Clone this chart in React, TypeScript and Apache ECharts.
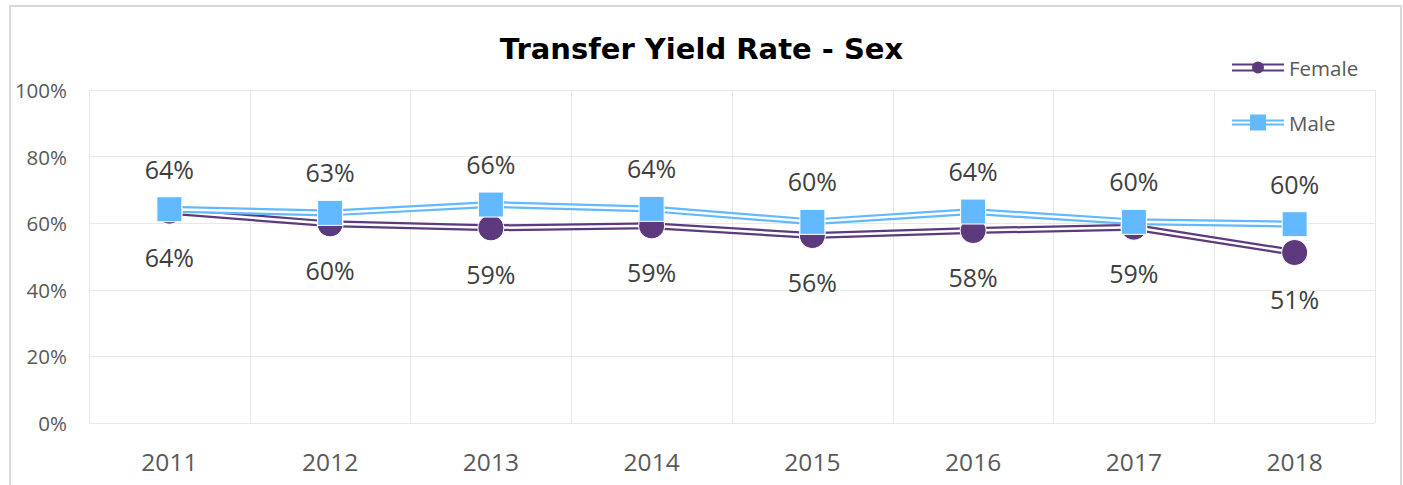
import React, { useEffect, useRef } from 'react';
import * as echarts from 'echarts';

const years = ['2011', '2012', '2013', '2014', '2015', '2016', '2017', '2018'];
const female = [63.6, 59.8, 58.6, 59.2, 56.3, 57.8, 58.8, 51.2];
const male = [64.2, 63.1, 65.6, 64.3, 60.4, 63.5, 60.4, 59.7];

const PURPLE = '#5C3A7D';
const BLUE = '#62B9FF';
const FONT = 'Open Sans';

const femaleIcon = 'path://M0 4h52v2H0z M0 10h52v2H0z M20 8a6 6 0 1 1 12 0a6 6 0 1 1 -12 0z';
const maleIcon = 'path://M0 5h52v2H0z M0 9h52v2H0z M18 0h16v16H18z';

export default function App() {
  const ref = useRef<HTMLDivElement>(null);
  useEffect(() => {
    if (!ref.current) return;
    const chart = echarts.init(ref.current, undefined, { renderer: 'svg' });
    const label = (pos: 'top' | 'bottom', dist: number) => ({
      show: true,
      position: pos,
      distance: dist,
      fontFamily: FONT,
      fontSize: 25,
      color: '#404040',
      formatter: (p: any) => Math.round(p.value) + '%',
    });
    chart.setOption({
      animation: false,
      backgroundColor: '#ffffff',
      title: {
        text: 'Transfer Yield Rate - Sex',
        left: 'center',
        top: 29,
        textStyle: { fontFamily: 'DejaVu Sans', fontWeight: 'bold', fontSize: 29, color: '#000000' },
      },
      graphic: [
        {
          type: 'rect',
          shape: { x: 10, y: 6, width: 1391, height: 520 },
          style: { fill: 'none', stroke: '#d9d9d9', lineWidth: 2 },
          silent: true,
          z: -1,
        },
      ],
      legend: {
        orient: 'vertical',
        left: 1232,
        top: 57,
        padding: 0,
        itemWidth: 52,
        itemHeight: 16,
        itemGap: 34,
        textStyle: { fontFamily: FONT, fontSize: 20.5, color: '#595959' },
        data: [
          { name: 'Female', icon: femaleIcon, itemStyle: { color: PURPLE, borderWidth: 0 } },
          { name: 'Male', icon: maleIcon, itemStyle: { color: BLUE, borderWidth: 0 } },
        ],
      },
      grid: { left: 89, right: 28, top: 90, bottom: 62 },
      xAxis: {
        type: 'category',
        data: years,
        boundaryGap: true,
        axisLine: { show: false },
        axisTick: { show: false },
        splitLine: { show: true, lineStyle: { color: '#e8e8e8', width: 1 } },
        axisLabel: { fontFamily: FONT, fontSize: 24.5, color: '#595959', margin: 26 },
      },
      yAxis: {
        type: 'value',
        min: 0,
        max: 100,
        interval: 20,
        axisLine: { show: false },
        axisTick: { show: false },
        splitLine: { show: true, lineStyle: { color: '#e8e8e8', width: 1 } },
        axisLabel: { fontFamily: FONT, fontSize: 20.5, color: '#595959', margin: 22, formatter: '{value}%' },
      },
      series: [
        {
          name: 'Female outline',
          type: 'line',
          data: female,
          showSymbol: false,
          lineStyle: { color: PURPLE, width: 7 },
          itemStyle: { color: PURPLE },
          silent: true,
        },
        {
          name: 'Female',
          type: 'line',
          data: female,
          symbol: 'circle',
          symbolSize: 26,
          lineStyle: { color: '#ffffff', width: 2.5 },
          itemStyle: { color: PURPLE, borderColor: '#ffffff', borderWidth: 1 },
          label: label('bottom', 20),
        },
        {
          name: 'Male outline',
          type: 'line',
          data: male,
          showSymbol: false,
          lineStyle: { color: BLUE, width: 7 },
          itemStyle: { color: BLUE },
          silent: true,
        },
        {
          name: 'Male',
          type: 'line',
          data: male,
          symbol: 'rect',
          symbolSize: 25,
          lineStyle: { color: '#ffffff', width: 2.5 },
          itemStyle: { color: BLUE, borderColor: '#ffffff', borderWidth: 1 },
          label: label('top', 15),
        },
      ],
    });
    return () => chart.dispose();
  }, []);
  return <div ref={ref} style={{ position: 'fixed', left: 0, top: 0, width: 1403, height: 485 }} />;
}
